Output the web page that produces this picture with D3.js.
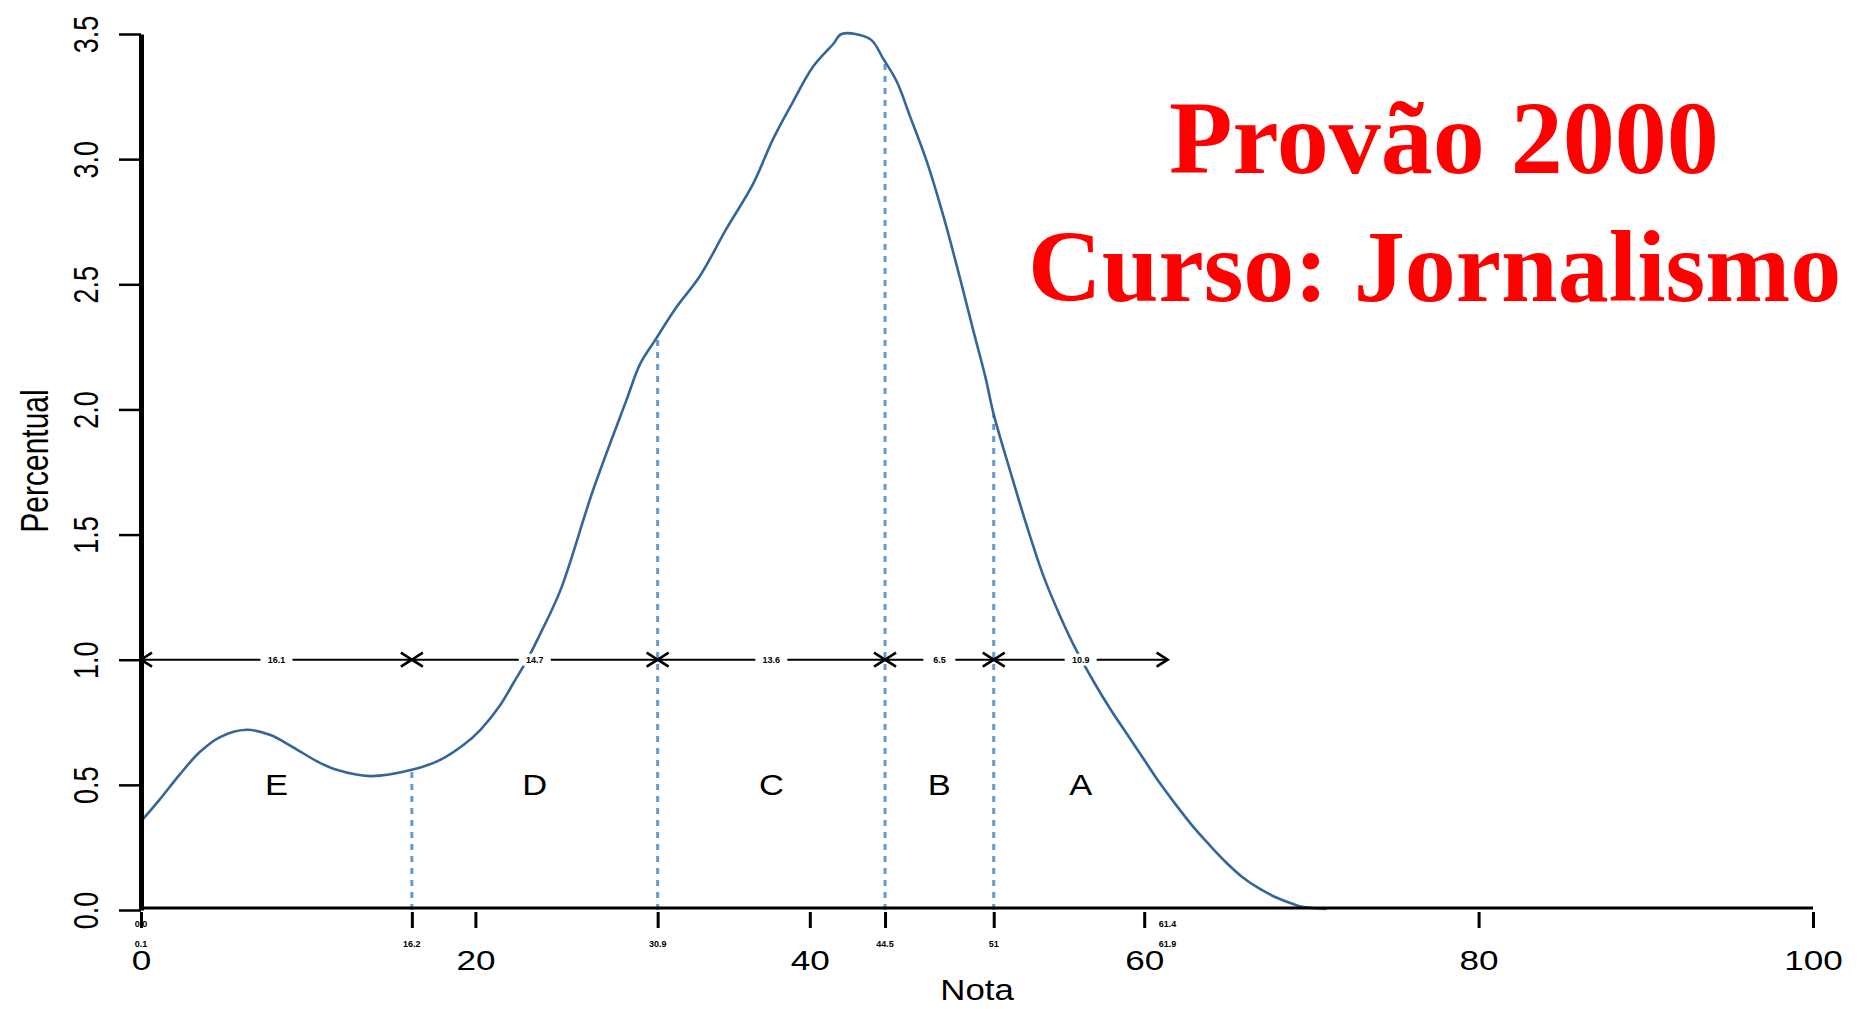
<!DOCTYPE html>
<html>
<head>
<meta charset="utf-8">
<script src="https://cdn.jsdelivr.net/npm/d3@7"></script>
<style>
body{margin:0;background:#fff;overflow:hidden}
svg{display:block}
</style>
</head>
<body>
<svg id="chart" width="1859" height="1009"></svg>
<script>
// density curve (nota -> percentual)
const nota = [0, 1.1, 2.3, 3.5, 4.7, 6.3, 7.7, 9.1, 10.5, 11.7, 13.7, 16.2, 17.9, 19.3, 20.3, 21.5, 22.3, 23.1, 24.0,
    25.1, 27.05, 29.05, 29.84, 30.78, 32.04, 33.4, 35.0, 36.6, 37.8, 39.0, 40.2, 41.4, 41.9, 43.6, 44.4, 45.2, 46.0,
    47.0, 48.0, 49.0, 49.8, 50.5, 51.0, 52, 53, 54, 55, 56, 57, 58, 59, 60, 60.9, 61.9, 62.9, 63.9, 64.9, 65.9, 66.9,
    67.9, 68.9, 69.5, 70.9];
const percentual = [0.354, 0.44, 0.54, 0.63, 0.69, 0.72, 0.70, 0.65, 0.595, 0.56, 0.535, 0.56, 0.60, 0.66, 0.72, 0.82,
    0.91, 1.0, 1.12, 1.28, 1.68, 2.04, 2.18, 2.28, 2.41, 2.53, 2.72, 2.90, 3.08, 3.23, 3.37, 3.46, 3.50, 3.48, 3.40,
    3.31, 3.17, 2.99, 2.77, 2.52, 2.31, 2.13, 1.98, 1.75, 1.53, 1.33, 1.17, 1.03, 0.91, 0.80, 0.70, 0.60, 0.51, 0.42,
    0.335, 0.26, 0.19, 0.13, 0.085, 0.05, 0.024, 0.012, 0.004];

// cut points between the grades, plus start / end of the arrow line
const cortes = [0, 16.2, 30.9, 44.5, 51, 61.4];
const conceitos = ["E", "D", "C", "B", "A"];
const larguras = ["16.1", "14.7", "13.6", "6.5", "10.9"];
const rotulosCorte = ["0.1", "16.2", "30.9", "44.5", "51", "61.9"];
const rotulosTopo = ["0.0", "61.4"];
const nivelSeta = 1.0;
const nivelLetras = 0.5;

const xTicks = [0, 20, 40, 60, 80, 100];
const yTicks = [0, 0.5, 1, 1.5, 2, 2.5, 3, 3.5];
const titulo = ["Provão 2000", "Curso: Jornalismo"];

const svg = d3.select("#chart");
const sans = "'Liberation Sans', Arial, Helvetica, sans-serif";
const blue = "#336699", lightBlue = "#6699cc";

svg.append("rect").attr("width", 1859).attr("height", 1009).attr("fill", "#fff");

const x = d3.scaleLinear().domain([0, 100]).range([141, 1813]);
const y = d3.scaleLinear().domain([0, 3.5]).range([910, 34]);

const data = nota.map((v, i) => ({x: v, y: percentual[i]}));
const bis = d3.bisector(d => d.x).left;
function densAt(v) {
    const i = bis(data, v);
    if (i <= 0) return data[0].y;
    if (i >= data.length) return data[data.length - 1].y;
    const a = data[i - 1], b = data[i];
    return a.y + (b.y - a.y) * (v - a.x) / (b.x - a.x);
}

// dashed verticals at the cuts
svg.append("g")
    .selectAll("line")
    .data(cortes.slice(1, 5))
    .enter()
    .append("line")
    .attr("x1", d => x(d)).attr("x2", d => x(d))
    .attr("y1", y(0)).attr("y2", d => y(densAt(d)))
    .attr("stroke", lightBlue)
    .attr("stroke-width", 3)
    .attr("stroke-dasharray", "6,6");

// density curve
const line = d3.line()
    .curve(d3.curveCatmullRom.alpha(0.5))
    .x(d => x(d.x))
    .y(d => y(d.y));
svg.append("path")
    .attr("d", line(data))
    .attr("fill", "none")
    .attr("stroke", blue)
    .attr("stroke-width", 2.6);

// x axis
svg.append("line")
    .attr("x1", x.range()[0]).attr("x2", x.range()[1])
    .attr("y1", 908).attr("y2", 908)
    .attr("stroke", "#000").attr("stroke-width", 3);

const xAxis = svg.append("g")
    .attr("transform", "translate(0,912)")
    .call(d3.axisBottom(x).tickValues(xTicks).tickSize(16).tickPadding(23).tickFormat(d3.format("d")));
xAxis.select(".domain").remove();
xAxis.selectAll(".tick line").attr("stroke", "#000").attr("stroke-width", 3);
xAxis.selectAll(".tick text")
    .attr("font-family", sans).attr("font-size", 27).attr("fill", "#000")
    .attr("transform", "scale(1.3,1)");

const cutAxis = svg.append("g")
    .attr("transform", "translate(0,912)")
    .call(d3.axisBottom(x).tickValues(cortes.slice(1, 5)).tickSize(16).tickFormat(""));
cutAxis.select(".domain").remove();
cutAxis.selectAll(".tick line").attr("stroke", "#000").attr("stroke-width", 3);

// small cut labels under the axis
svg.append("g")
    .selectAll("text")
    .data(rotulosCorte)
    .enter()
    .append("text")
    .attr("x", (d, i) => x(cortes[i]))
    .attr("y", 947)
    .attr("text-anchor", "middle")
    .attr("font-family", sans).attr("font-size", 9).attr("font-weight", "bold")
    .text(d => d);

svg.append("g")
    .selectAll("text")
    .data(rotulosTopo)
    .enter()
    .append("text")
    .attr("x", (d, i) => x(i ? cortes[cortes.length - 1] : cortes[0]))
    .attr("y", 927)
    .attr("text-anchor", "middle")
    .attr("font-family", sans).attr("font-size", 9).attr("font-weight", "bold")
    .text(d => d);

// y axis
const yAxis = svg.append("g")
    .attr("transform", `translate(${x(0)},0)`)
    .call(d3.axisLeft(y).tickValues(yTicks).tickSize(22).tickSizeOuter(0).tickFormat(d3.format(".1f")));
yAxis.select(".domain").attr("stroke", "#000").attr("stroke-width", 5);
yAxis.selectAll(".tick line").attr("stroke", "#000").attr("stroke-width", 2.5);
yAxis.selectAll(".tick text")
    .attr("x", 0).attr("dy", null)
    .attr("text-anchor", "middle")
    .attr("font-family", sans).attr("font-size", 27).attr("fill", "#000")
    .attr("transform", "translate(-43,0) rotate(-90) scale(1,1.3)");

// axis titles
svg.append("text")
    .attr("transform", `translate(${(x.range()[0] + x.range()[1]) / 2},1000) scale(1.2,1)`)
    .attr("text-anchor", "middle")
    .attr("font-family", sans).attr("font-size", 29)
    .text("Nota");
svg.append("text")
    .attr("transform", "translate(48,461) rotate(-90) scale(1,1.3)")
    .attr("text-anchor", "middle")
    .attr("font-family", sans).attr("font-size", 30)
    .text("Percentual");

// arrow line at y = 1
const ya = y(nivelSeta);
const seta = svg.append("g");
seta.append("line")
    .attr("x1", x(cortes[0])).attr("x2", x(cortes[cortes.length - 1]))
    .attr("y1", ya).attr("y2", ya)
    .attr("stroke", "#000").attr("stroke-width", 2);

const segs = d3.pairs(cortes);
const head = 11, half = 7;
seta.selectAll("path.left")
    .data(segs)
    .enter()
    .append("path")
    .attr("d", ([a]) => `M${x(a) + head},${ya - half}L${x(a)},${ya}L${x(a) + head},${ya + half}`)
    .attr("fill", "none").attr("stroke", "#000").attr("stroke-width", 2.6);
seta.selectAll("path.right")
    .data(segs)
    .enter()
    .append("path")
    .attr("d", ([, b]) => `M${x(b) - head},${ya - half}L${x(b)},${ya}L${x(b) - head},${ya + half}`)
    .attr("fill", "none").attr("stroke", "#000").attr("stroke-width", 2.6);

const meio = seta.selectAll("g.lab")
    .data(segs)
    .enter()
    .append("g")
    .attr("transform", ([a, b]) => `translate(${x((a + b) / 2)},${ya})`);
meio.append("rect")
    .attr("x", -16).attr("y", -6).attr("width", 32).attr("height", 12)
    .attr("fill", "#fff");
meio.append("text")
    .attr("text-anchor", "middle").attr("dy", "0.35em")
    .attr("font-family", sans).attr("font-size", 9).attr("font-weight", "bold")
    .text((d, i) => larguras[i]);

// grade letters
svg.append("g")
    .selectAll("text")
    .data(segs)
    .enter()
    .append("text")
    .attr("transform", ([a, b]) => `translate(${x((a + b) / 2)},${y(nivelLetras)}) scale(1.15,1)`)
    .attr("dy", "0.35em")
    .attr("text-anchor", "middle")
    .attr("font-family", sans).attr("font-size", 30)
    .text((d, i) => conceitos[i]);

// title
svg.append("text")
    .attr("x", 1169).attr("y", 173)
    .attr("font-family", "'Liberation Serif', 'Times New Roman', serif")
    .attr("font-weight", "bold").attr("font-size", 104).attr("fill", "#ff0000")
    .text(titulo[0]);
svg.append("text")
    .attr("x", 1028).attr("y", 301)
    .attr("font-family", "'Liberation Serif', 'Times New Roman', serif")
    .attr("font-weight", "bold").attr("font-size", 102).attr("fill", "#ff0000")
    .text(titulo[1]);
</script>
</body>
</html>
